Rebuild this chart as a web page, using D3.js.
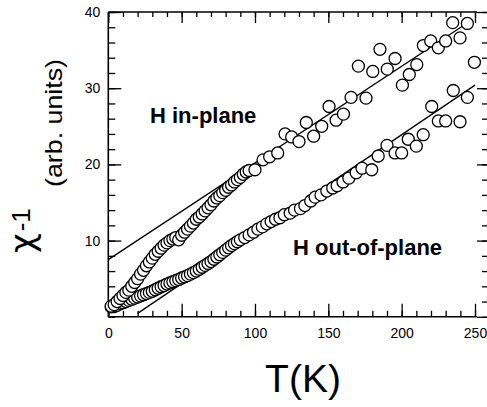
<!DOCTYPE html>
<html>
<head>
<meta charset="utf-8">
<script src="https://cdn.jsdelivr.net/npm/d3@7"></script>
<style>
  html, body { margin: 0; padding: 0; background: #fff; }
  svg { display: block; font-family: "Liberation Sans", Arial, sans-serif; }
</style>
</head>
<body>
<svg id="chart" width="487" height="407"></svg>
<script>
// Inverse susceptibility vs temperature, field in-plane and out-of-plane
const tempInPlane = [2, 4, 6, 8, 10, 12, 14, 16, 18, 20, 22, 24, 26, 28, 30, 32, 34, 36, 38, 40,
  42, 44, 46, 48, 50, 52, 54, 56, 58, 60, 62, 64, 66, 68, 70, 72, 74, 76, 78, 80,
  82, 84, 86, 88, 90, 92, 94, 96, 100, 105.5, 110, 115.5, 120.5, 125, 130, 135, 140,
  145.5, 150.5, 155.3, 160.3, 165.5, 170.5, 175.7, 180.3, 185.2, 190.2, 195.5, 200.5,
  205.2, 210.3, 214.8, 219.8, 225, 230, 234.8, 239.8, 244.8, 249.6];
const chiInPlane = [1.4, 1.6, 2.0, 2.4, 2.8, 3.2, 3.5, 4.0, 4.5, 5.0, 5.6, 6.1, 6.7, 7.2, 7.7, 8.2, 8.6, 9.0, 9.4, 9.7,
  10.0, 10.2, 10.4, 10.1, 10.7, 11.1, 11.5, 11.9, 12.3, 12.8, 13.1, 13.5, 13.9, 14.3, 14.7, 15.2, 15.6, 15.9, 16.3, 16.6,
  17.0, 17.3, 17.7, 18.0, 18.3, 18.7, 19.0, 19.2, 19.3, 20.6, 21.0, 21.5, 24.0, 23.6, 23.0, 25.5, 23.7,
  25.0, 27.6, 25.8, 26.6, 28.8, 32.9, 28.7, 32.2, 35.1, 32.5, 33.9, 30.4,
  31.8, 33.1, 35.6, 36.2, 35.3, 36.2, 38.6, 36.6, 38.5, 33.4];

const tempOutPlane = [2, 4, 6, 8, 10, 12, 14, 16, 18, 20, 22, 24, 26, 28, 30, 32, 34, 36, 38, 40,
  42, 44, 46, 48, 50, 52, 54, 56, 58, 60, 62, 64, 66, 68, 70, 72, 74, 76, 78, 80,
  82, 84, 86, 88, 90, 93, 96, 99, 102, 105, 108, 111, 114, 117, 120, 124, 127, 131, 134, 138,
  141, 145, 149, 153, 156, 160, 164, 169, 173, 179.6, 184, 190, 195.5, 200, 204.5, 210, 214.7,
  220.5, 225, 230, 235.2, 239.8, 244.8];
const chiOutPlane = [1.3, 1.35, 1.5, 1.7, 1.85, 2.0, 2.15, 2.3, 2.45, 2.6, 2.75, 2.9, 3.05, 3.2, 3.35, 3.55, 3.75, 3.95, 4.1, 4.3,
  4.45, 4.6, 4.75, 4.9, 5.1, 5.25, 5.4, 5.6, 5.8, 6.0, 6.25, 6.5, 6.75, 7.0, 7.25, 7.55, 7.85, 8.15, 8.45, 8.75,
  9.05, 9.35, 9.6, 9.85, 10.1, 10.4, 10.75, 11.1, 11.5, 11.8, 12.2, 12.5, 12.8, 13.0, 13.4, 13.6, 14.0, 14.2, 14.6, 15.2,
  15.7, 16.0, 16.5, 16.9, 17.2, 17.7, 18.2, 18.9, 19.5, 19.3, 21.1, 22.5, 21.5, 21.5, 23.3, 22.4, 23.9,
  27.6, 25.7, 25.7, 29.7, 25.6, 28.8];

// Curie-Weiss fit lines (end points)
const fitInPlaneT = [0, 245];
const fitInPlaneChi = [7.5, 38.6];
const fitOutPlaneT = [20, 250];
const fitOutPlaneChi = [0.45, 30.4];

const xTickValues = [0, 50, 100, 150, 200, 250];
const yTickValues = [10, 20, 30, 40];
const xMinorValues = d3.range(0, 251, 10);
const yMinorValues = d3.range(0, 41, 2);

const labelInPlane = "H in-plane";
const labelOutPlane = "H out-of-plane";

const svg = d3.select("#chart");
const plotLeft = 108.3, plotBottom = 316.8, plotTop = 12, rightTicks = 487, frameRight = 477;

const x = d3.scaleLinear().domain([0, 250]).range([plotLeft, 475]);
const y = d3.scaleLinear().domain([0, 40]).range([plotBottom, plotTop]);

// frame: left, bottom, top spines
const frame = svg.append("g").attr("stroke", "#000").attr("stroke-width", 1.6).attr("fill", "none");
frame.append("line").attr("x1", plotLeft).attr("x2", plotLeft).attr("y1", plotTop).attr("y2", plotBottom);
frame.append("line").attr("x1", plotLeft).attr("x2", frameRight).attr("y1", plotBottom).attr("y2", plotBottom);
frame.append("line").attr("x1", plotLeft).attr("x2", frameRight).attr("y1", plotTop).attr("y2", plotTop);

function styleAxis(g) {
  g.select(".domain").remove();
  g.selectAll(".tick line").attr("stroke", "#000").attr("stroke-width", 1.3);
  g.selectAll(".tick text").attr("fill", "#000").attr("font-size", 14)
    .attr("font-family", "'Liberation Sans', Arial, sans-serif");
}

// bottom axis
svg.append("g").attr("transform", `translate(0,${plotBottom})`)
  .call(d3.axisBottom(x).tickValues(xMinorValues).tickSize(-6).tickFormat(""))
  .call(styleAxis);
svg.append("g").attr("transform", `translate(0,${plotBottom})`)
  .call(d3.axisBottom(x).tickValues(xTickValues).tickSize(-13).tickPadding(11).tickFormat(d3.format("d")))
  .call(styleAxis);
// top axis
svg.append("g").attr("transform", `translate(0,${plotTop})`)
  .call(d3.axisTop(x).tickValues(xMinorValues).tickSize(-5).tickFormat(""))
  .call(styleAxis);
svg.append("g").attr("transform", `translate(0,${plotTop})`)
  .call(d3.axisTop(x).tickValues(xTickValues).tickSize(-11).tickFormat(""))
  .call(styleAxis);
// left axis
svg.append("g").attr("transform", `translate(${plotLeft},0)`)
  .call(d3.axisLeft(y).tickValues(yMinorValues).tickSize(-7).tickFormat(""))
  .call(styleAxis);
svg.append("g").attr("transform", `translate(${plotLeft},0)`)
  .call(d3.axisLeft(y).tickValues(yTickValues).tickSize(-13).tickPadding(8).tickFormat(d3.format("d")))
  .call(styleAxis);
// right axis ticks
svg.append("g").attr("transform", `translate(${rightTicks},0)`)
  .call(d3.axisRight(y).tickValues(yMinorValues).tickSize(-5).tickFormat(""))
  .call(styleAxis);
svg.append("g").attr("transform", `translate(${rightTicks},0)`)
  .call(d3.axisRight(y).tickValues(yTickValues.concat([0])).tickSize(-10).tickFormat(""))
  .call(styleAxis);

// fit lines
const line = d3.line().x(d => x(d[0])).y(d => y(d[1]));
svg.append("path").datum(d3.zip(fitInPlaneT, fitInPlaneChi))
  .attr("d", line).attr("fill", "none").attr("stroke", "#000").attr("stroke-width", 1.3);
svg.append("path").datum(d3.zip(fitOutPlaneT, fitOutPlaneChi))
  .attr("d", line).attr("fill", "none").attr("stroke", "#000").attr("stroke-width", 1.3);

// data points
function drawSeries(ts, vs) {
  svg.append("g").selectAll("circle").data(d3.zip(ts, vs)).join("circle")
    .attr("cx", d => x(d[0])).attr("cy", d => y(d[1])).attr("r", 6)
    .attr("fill", "#fff").attr("stroke", "#000").attr("stroke-width", 1.3);
}
drawSeries(tempOutPlane, chiOutPlane);
drawSeries(tempInPlane, chiInPlane);

// series labels
svg.append("text").attr("x", 150).attr("y", 123).attr("font-size", 22).attr("font-weight", "bold")
  .attr("font-family", "'Liberation Sans', Arial, sans-serif").text(labelInPlane);
svg.append("text").attr("x", 293).attr("y", 255).attr("font-size", 22).attr("font-weight", "bold")
  .attr("font-family", "'Liberation Sans', Arial, sans-serif").text(labelOutPlane);

// axis titles
svg.append("text").attr("x", 303).attr("y", 392).attr("text-anchor", "middle")
  .attr("font-size", 39).attr("font-family", "'Liberation Sans', Arial, sans-serif").text("T(K)");

// rotated y title: chi^-1 (arb. units)
const yTitle = svg.append("g").attr("transform", "translate(34,253) rotate(-90)")
  .attr("font-family", "'Liberation Sans', Arial, sans-serif");
const chi = yTitle.append("text").attr("x", 0).attr("y", 0);
chi.append("tspan").attr("font-size", 34).attr("font-family", "'DejaVu Sans', sans-serif").text("χ");
chi.append("tspan").attr("font-size", 26).attr("dx", 2).attr("dy", -4).text("-1");
yTitle.append("text").attr("x", 66).attr("y", 28).attr("font-size", 24)
  .attr("textLength", 128).attr("lengthAdjust", "spacingAndGlyphs").text("(arb. units)");
</script>
</body>
</html>
